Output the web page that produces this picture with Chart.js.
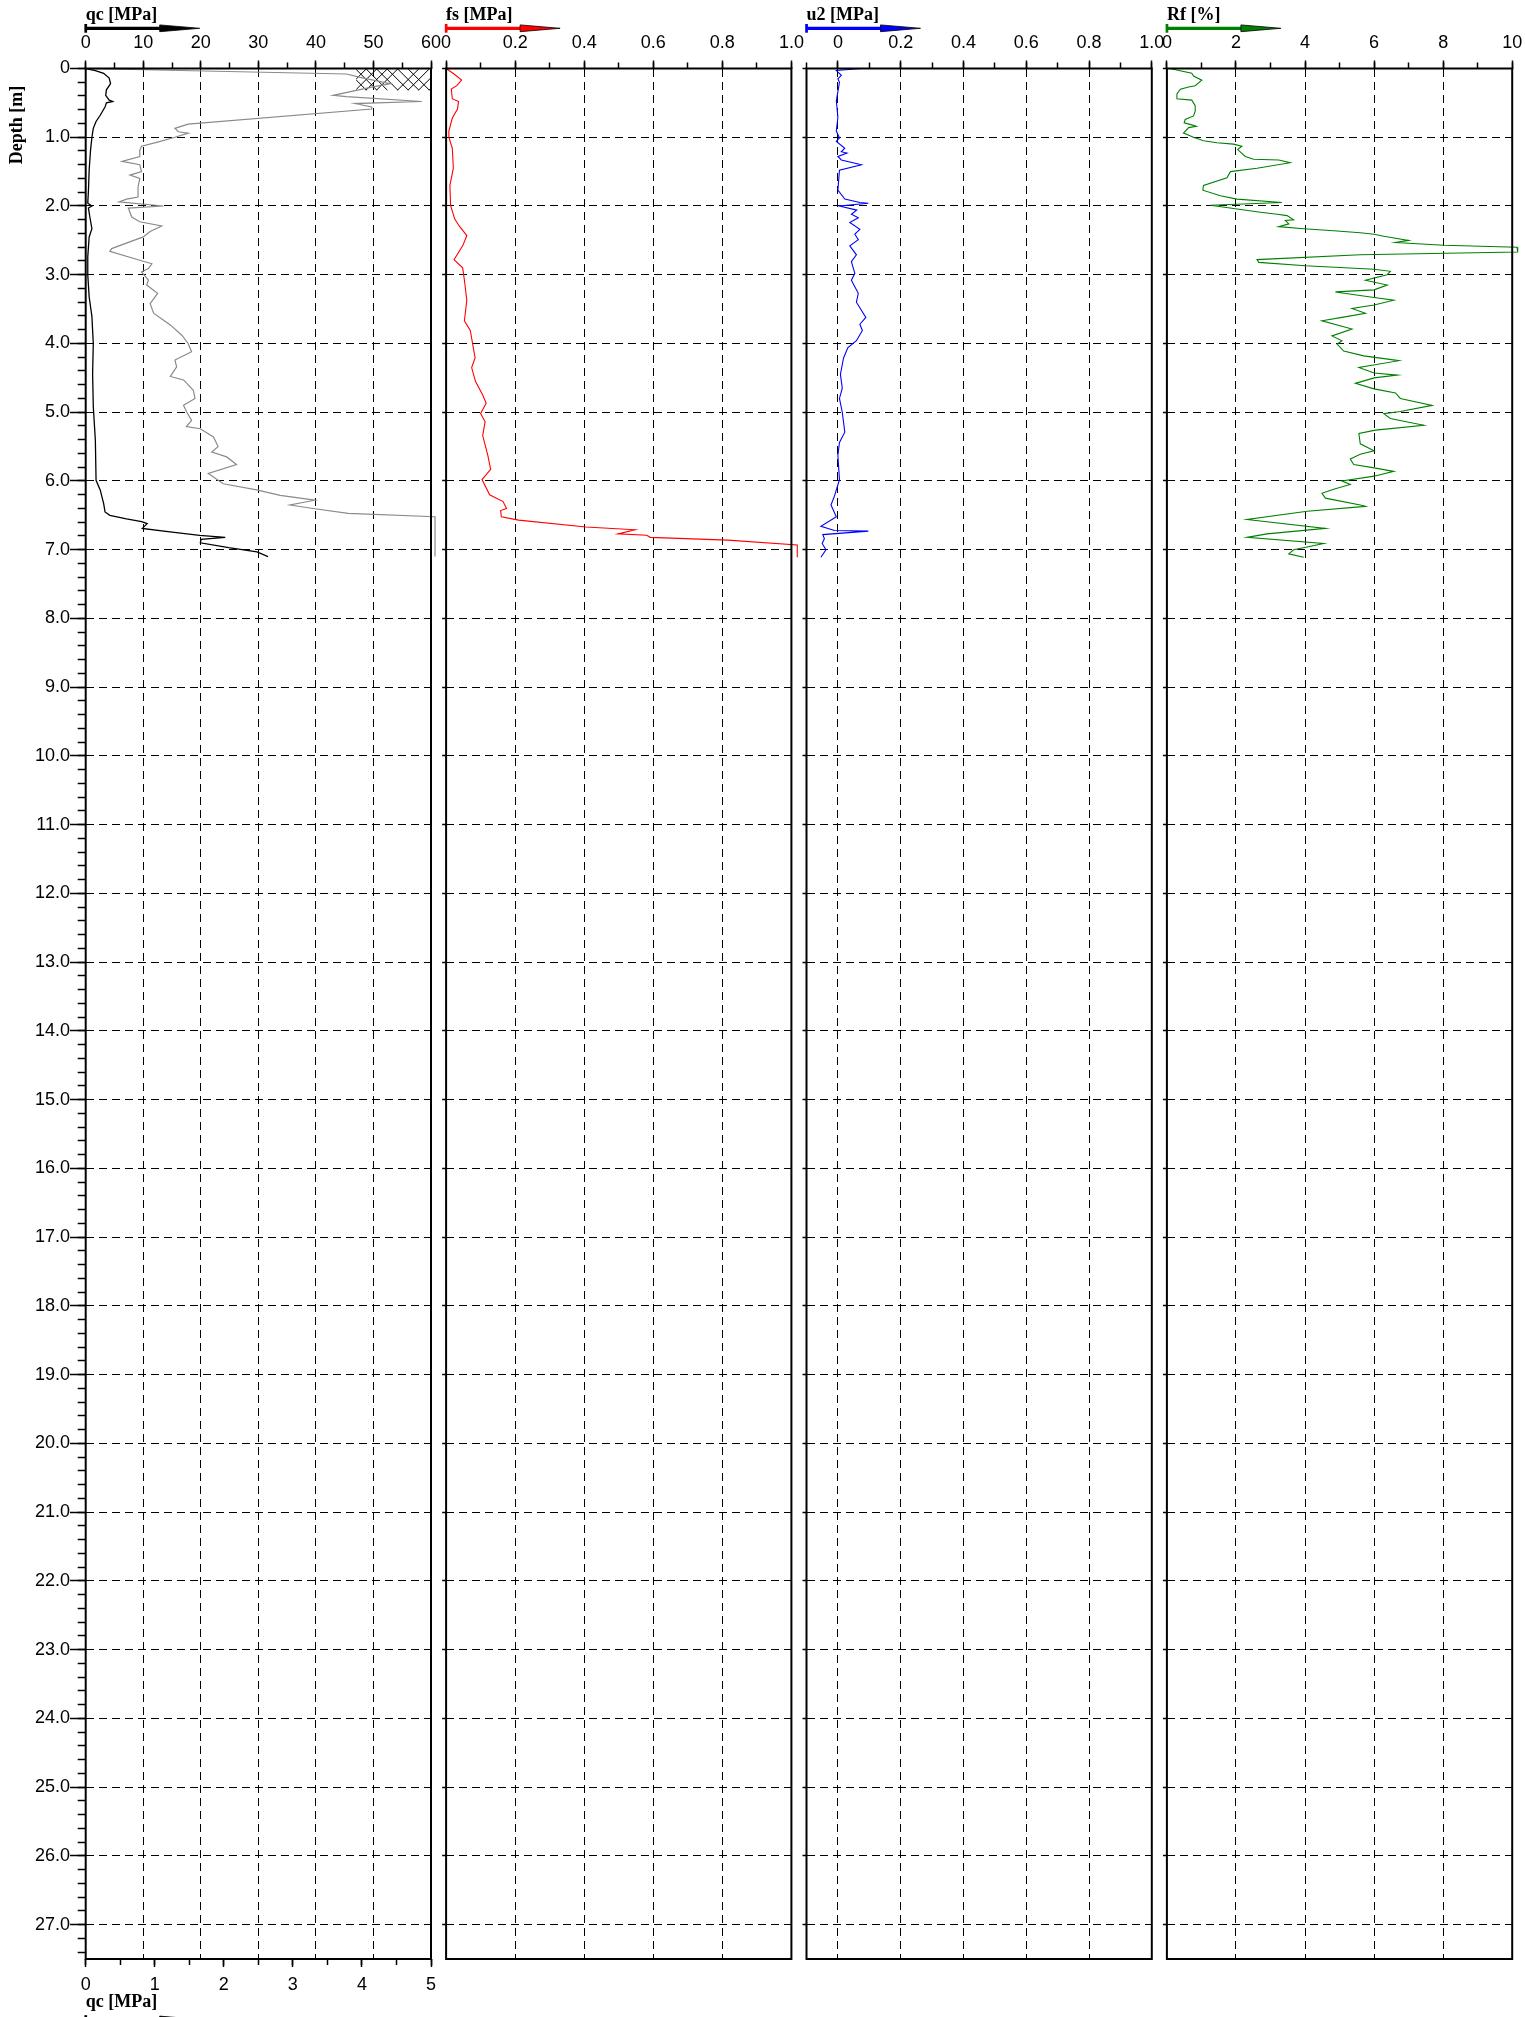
<!DOCTYPE html>
<html lang="en">
<head>
    <meta charset="UTF-8">
    <title>CPT log</title>
    <style>
        html, body {
            margin: 0;
            padding: 0;
            background: #ffffff;
            overflow: hidden;
        }
        body {
            position: relative;
            width: 1525px;
            height: 2017px;
        }
        canvas {
            position: absolute;
            top: 0;
        }
    </style>
    <script src="https://cdn.jsdelivr.net/npm/chart.js"></script>
</head>
<body>
    <canvas id="qcChart"></canvas>
    <canvas id="fsChart"></canvas>
    <canvas id="u2Chart"></canvas>
    <canvas id="rfChart"></canvas>

    <script>
        // depth axis [m] and tick labels
        const depthMax = 27.5;
        const depthTicks = [0, 1, 2, 3, 4, 5, 6, 7, 8, 9, 10, 11, 12, 13, 14, 15, 16, 17, 18, 19, 20, 21, 22, 23, 24, 25, 26, 27];
        const qcTopTicks = [0, 10, 20, 30, 40, 50, 60];
        const qcBottomTicks = [0, 1, 2, 3, 4, 5];
        const fsTicks = [0, 0.2, 0.4, 0.6, 0.8, 1.0];
        const u2Ticks = [0, 0.2, 0.4, 0.6, 0.8, 1.0];
        const rfTicks = [0, 2, 4, 6, 8, 10];

        // qc [MPa] on the 0-60 scale (grey)
        const qcDepth = [
            0, 0.08, 0.13, 0.22, 0.27, 0.39, 0.41, 0.48, 0.51, 0.56,
            0.59, 0.81, 0.87, 0.92, 0.94, 1.00, 1.07, 1.13, 1.19, 1.28,
            1.35, 1.40, 1.50, 1.55, 1.60, 1.72, 1.87, 1.90, 1.94, 2.00,
            2.03, 2.16, 2.23, 2.29, 2.37, 2.45, 2.62, 2.66, 2.79, 2.84,
            2.91, 2.96, 3.08, 3.15, 3.27, 3.42, 3.56, 3.73, 3.88, 4.00,
            4.12, 4.24, 4.34, 4.48, 4.53, 4.68, 4.80, 4.90, 4.99, 5.12,
            5.21, 5.24, 5.36, 5.50, 5.58, 5.65, 5.76, 5.89, 6.04, 6.13,
            6.21, 6.28, 6.35, 6.40, 6.47, 6.52, 7.10
        ];
        const qcValues = [
            0, 45.3, 47.7, 52.9, 49.7, 43.0, 45.3, 58.4, 46.8, 49.7,
            49.7, 17.8, 15.5, 16.1, 17.8, 15.5, 12.5, 9.7, 9.4, 9.4,
            6.3, 9.4, 9.7, 7.7, 9.4, 9.1, 9.1, 7.1, 5.8, 13.5,
            7.4, 8.0, 9.4, 13.2, 11.2, 10.0, 4.5, 4.2, 9.4, 11.5,
            10.9, 9.7, 10.9, 10.6, 12.5, 11.2, 11.8, 14.7, 16.7, 17.8,
            18.4, 15.5, 15.8, 14.7, 17.0, 18.7, 19.0, 17.0, 17.5, 18.4,
            17.5, 19.9, 22.2, 23.0, 21.9, 24.5, 26.2, 21.3, 23.9, 29.7,
            33.8, 39.8, 35.5, 39.5, 45.6, 60.7, 60.7
        ];

        // qc [MPa] on the 0-5 scale (black)
        const qcFineDepth = [
            0, 0.03, 0.07, 0.14, 0.22, 0.31, 0.39, 0.46, 0.48, 0.50,
            0.56, 0.68, 0.77, 0.87, 1.00, 1.19, 1.48, 1.77, 1.96, 2.00,
            2.03, 2.16, 2.33, 2.45, 2.74, 3.00, 3.32, 3.61, 4.00, 4.44,
            4.92, 5.41, 5.99, 6.13, 6.33, 6.45, 6.50, 6.55, 6.59, 6.62,
            6.69, 6.74, 6.79, 6.82, 6.85, 6.90, 6.97, 7.03, 7.10
        ];
        const qcFineValues = [
            0, 0.14, 0.26, 0.34, 0.36, 0.30, 0.29, 0.34, 0.39, 0.30,
            0.28, 0.21, 0.15, 0.11, 0.09, 0.07, 0.05, 0.04, 0.03, 0.09,
            0.04, 0.06, 0.09, 0.05, 0.03, 0.03, 0.05, 0.09, 0.11, 0.10,
            0.11, 0.14, 0.15, 0.21, 0.26, 0.28, 0.35, 0.59, 0.81, 0.89,
            0.82, 1.22, 1.65, 2.02, 1.67, 1.66, 2.07, 2.48, 2.64
        ];

        // fs [MPa]
        const fsDepth = [
            0, 0.08, 0.17, 0.25, 0.30, 0.44, 0.48, 0.59, 0.72, 0.91,
            1.00, 1.16, 1.45, 1.70, 1.99, 2.19, 2.29, 2.43, 2.58, 2.78,
            2.90, 3.08, 3.37, 3.67, 3.81, 4.21, 4.35, 4.55, 4.75, 4.87,
            5.02, 5.14, 5.34, 5.63, 5.83, 5.98, 6.20, 6.30, 6.40, 6.43,
            6.52, 6.57, 6.67, 6.71, 6.77, 6.79, 6.82, 6.86, 6.93, 7.11
        ];
        const fsValues = [
            0, 0.023, 0.045, 0.031, 0.015, 0.018, 0.036, 0.033, 0.018, 0.008,
            0.008, 0.018, 0.021, 0.011, 0.013, 0.025, 0.038, 0.060, 0.048, 0.023,
            0.048, 0.053, 0.060, 0.053, 0.070, 0.084, 0.074, 0.085, 0.106, 0.116,
            0.100, 0.113, 0.106, 0.121, 0.129, 0.104, 0.126, 0.165, 0.175, 0.158,
            0.160, 0.210, 0.405, 0.547, 0.498, 0.581, 0.591, 0.816, 1.017, 1.017
        ];

        // u2 [MPa]
        const u2Depth = [
            0, 0.03, 0.10, 0.15, 0.20, 0.47, 0.71, 0.91, 1.01, 1.06,
            1.16, 1.21, 1.23, 1.28, 1.33, 1.40, 1.48, 1.77, 1.90, 1.95,
            1.96, 2.00, 2.06, 2.12, 2.17, 2.24, 2.34, 2.41, 2.49, 2.58,
            2.71, 2.81, 2.98, 3.08, 3.27, 3.40, 3.62, 3.72, 3.81, 3.96,
            4.06, 4.21, 4.45, 4.65, 4.80, 5.00, 5.29, 5.44, 5.63, 5.98,
            6.22, 6.35, 6.52, 6.66, 6.72, 6.73, 6.78, 6.84, 6.91, 7.00,
            7.11
        ];
        const u2Values = [
            0.075, -0.005, 0.011, 0.000, 0.005, -0.005, 0.000, -0.005, 0.005, -0.005,
            0.022, 0.011, 0.029, 0.000, 0.011, 0.075, 0.005, 0.000, 0.022, 0.070,
            0.097, 0.005, 0.060, 0.043, 0.065, 0.038, 0.070, 0.054, 0.065, 0.038,
            0.059, 0.043, 0.054, 0.043, 0.065, 0.059, 0.089, 0.070, 0.078, 0.059,
            0.032, 0.018, 0.008, 0.014, 0.005, 0.014, 0.022, 0.005, 0.000, 0.005,
            -0.011, -0.022, -0.005, -0.054, -0.011, 0.097, -0.048, -0.043, -0.050, -0.038,
            -0.054
        ];

        // Rf [%]
        const rfDepth = [
            0.00, 0.07, 0.11, 0.17, 0.25, 0.27, 0.30, 0.37, 0.44, 0.46,
            0.54, 0.62, 0.69, 0.74, 0.79, 0.82, 0.84, 0.86, 0.94, 1.00,
            1.05, 1.08, 1.10, 1.13, 1.18, 1.28, 1.32, 1.33, 1.37, 1.45,
            1.50, 1.59, 1.70, 1.77, 1.85, 1.90, 1.95, 1.99, 2.04, 2.09,
            2.12, 2.14, 2.20, 2.21, 2.26, 2.30, 2.33, 2.36, 2.39, 2.41,
            2.44, 2.50, 2.53, 2.57, 2.60, 2.67, 2.71, 2.78, 2.82, 2.87,
            2.92, 2.95, 3.00, 3.08, 3.15, 3.22, 3.25, 3.33, 3.37, 3.44,
            3.49, 3.56, 3.62, 3.67, 3.79, 3.89, 3.96, 4.01, 4.11, 4.18,
            4.25, 4.35, 4.43, 4.46, 4.50, 4.58, 4.66, 4.72, 4.80, 4.90,
            4.99, 5.02, 5.09, 5.19, 5.26, 5.31, 5.46, 5.56, 5.61, 5.68,
            5.76, 5.81, 5.86, 5.93, 6.00, 6.05, 6.12, 6.18, 6.25, 6.35,
            6.37, 6.44, 6.56, 6.69, 6.77, 6.82, 6.91, 6.96, 7.00, 7.06,
            7.11
        ];
        const rfValues = [
            0.08, 0.72, 0.77, 1.01, 0.82, 0.63, 0.39, 0.29, 0.29, 0.72,
            0.82, 0.82, 0.77, 0.53, 0.50, 0.72, 0.85, 0.63, 0.48, 0.77,
            1.06, 1.45, 1.93, 2.17, 2.05, 2.27, 2.51, 3.24, 3.57, 2.61,
            1.84, 1.74, 1.06, 1.04, 1.55, 2.03, 3.33, 1.26, 1.98, 2.71,
            3.19, 3.48, 3.67, 3.43, 3.53, 3.24, 3.96, 4.83, 5.60, 6.00,
            6.28, 7.00, 6.62, 8.02, 10.14, 10.16, 5.60, 2.61, 2.66, 4.01,
            6.00, 6.47, 6.38, 5.75, 6.38, 6.00, 4.88, 6.00, 6.57, 6.00,
            5.36, 5.75, 5.07, 4.49, 5.36, 4.78, 5.07, 4.93, 5.12, 5.70,
            6.72, 5.56, 6.00, 6.67, 6.00, 5.46, 6.00, 6.62, 6.76, 7.68,
            6.76, 6.28, 6.47, 7.44, 6.04, 5.56, 5.60, 6.00, 5.60, 5.31,
            5.41, 6.00, 6.57, 6.00, 5.07, 5.31, 4.83, 4.49, 4.59, 5.60,
            5.75, 4.06, 2.32, 4.59, 2.90, 2.32, 4.54, 4.06, 3.67, 3.53,
            3.96
        ];

        // hatched zone at the top of the qc track
        const hatchQc = [47, 60];
        const hatchDepth = [0, 0.32];

        // page layout
        const PANEL_LEFT = [85.7, 446.1, 806.5, 1166.9];
        const PANEL_W = 345.3;
        const AXIS_TOP = 68.5;
        const AXIS_BOTTOM_H = 58;
        const PAGE_H = 2017;

        Chart.defaults.font.family = '"Liberation Sans", Arial, sans-serif';
        Chart.defaults.font.size = 18;
        Chart.defaults.color = '#000';

        const toPoints = (depth, vals) => depth.map((d, i) => ({ x: vals[i], y: d }));
        const decimal = v => v === 0 ? '0' : v.toFixed(1);

        function drawArrow(ctx, x, y, color) {
            ctx.save();
            ctx.strokeStyle = color;
            ctx.fillStyle = color;
            ctx.lineWidth = 3.3;
            ctx.beginPath();
            ctx.moveTo(x, y);
            ctx.lineTo(x + 76, y);
            ctx.stroke();
            ctx.fillRect(x - 1.3, y - 4.3, 2.7, 8.7);
            ctx.beginPath();
            ctx.moveTo(x + 74, y - 3.4);
            ctx.lineTo(x + 114, y);
            ctx.lineTo(x + 74, y + 3.4);
            ctx.closePath();
            ctx.fill();
            ctx.lineWidth = 0.8;
            ctx.strokeStyle = '#000';
            ctx.stroke();
            ctx.restore();
        }

        // frame, titles, arrows and hatching
        const trackDecor = {
            id: 'trackDecor',
            beforeDatasetsDraw(chart, args, opts) {
                if (!opts.hatch) return;
                const { ctx } = chart;
                const xs = chart.scales.x, ys = chart.scales.y;
                const x0 = xs.getPixelForValue(hatchQc[0]), x1 = xs.getPixelForValue(hatchQc[1]);
                const y0 = ys.getPixelForValue(hatchDepth[0]), y1 = ys.getPixelForValue(hatchDepth[1]);
                const h = y1 - y0, w = x1 - x0, step = 10.5;
                ctx.save();
                ctx.beginPath();
                ctx.rect(x0, y0, w, h);
                ctx.clip();
                ctx.strokeStyle = '#000';
                ctx.lineWidth = 1;
                ctx.beginPath();
                // "\" strokes over the left three quarters
                for (let s = x0 - h; s < x0 + w * 0.78; s += step) {
                    ctx.moveTo(s, y0);
                    ctx.lineTo(s + h, y1);
                }
                // "/" strokes on the left and right parts
                for (let s = x0; s < x1 + h; s += step) {
                    const mid = s - h / 2;
                    if (mid > x0 + w * 0.42 && mid < x0 + w * 0.64) continue;
                    ctx.moveTo(s, y0);
                    ctx.lineTo(s - h, y1);
                }
                ctx.stroke();
                ctx.restore();
            },
            afterDraw(chart, args, opts) {
                const { ctx, chartArea: a } = chart;
                ctx.save();
                ctx.lineWidth = 2;
                ctx.strokeStyle = '#000';
                ctx.strokeRect(a.left, a.top, a.right - a.left, a.bottom - a.top);

                ctx.font = 'bold 18px "Liberation Serif", "Times New Roman", serif';
                ctx.fillStyle = '#000';
                ctx.textAlign = 'left';
                ctx.textBaseline = 'alphabetic';
                ctx.fillText(opts.title, a.left, 19.5);
                drawArrow(ctx, a.left, 28.3, opts.color);

                if (opts.bottomTitle) {
                    ctx.fillText(opts.bottomTitle, a.left, 2006.5);
                    drawArrow(ctx, a.left, 2019.5, '#000');
                }
                if (opts.depthTitle) {
                    ctx.translate(17.5, 125);
                    ctx.rotate(-Math.PI / 2);
                    ctx.textAlign = 'center';
                    ctx.textBaseline = 'middle';
                    ctx.fillText(opts.depthTitle, 0, 0);
                }
                ctx.restore();
            }
        };

        function tickAxis(position, min, max, step, size, weight) {
            // short ticks only, no labels, zero thickness so they sit on the frame
            return {
                type: 'linear', position: position, min: min, max: max, weight: weight,
                reverse: position === 'left',
                afterFit: s => { if (position === 'left') s.width = 0; else s.height = 0; },
                ticks: { stepSize: step, display: false, includeBounds: false },
                grid: { drawOnChartArea: false, tickLength: size, tickColor: '#000', tickWidth: 1.5 },
                border: { display: false }
            };
        }

        function makeTrack(i, cfg) {
            const canvas = document.getElementById(cfg.id);
            const first = i === 0;
            const left = PANEL_LEFT[i];
            const canvasLeft = first ? 0 : Math.floor(left) - 40;
            const offLeft = left - canvasLeft;
            const canvasW = Math.ceil(left + PANEL_W + 20) - canvasLeft;
            canvas.width = canvasW;
            canvas.height = PAGE_H;
            canvas.style.left = canvasLeft + 'px';

            const scales = {
                y: {
                    type: 'linear', position: 'left', reverse: true, min: 0, max: depthMax, weight: 1,
                    afterBuildTicks: s => { s.ticks = depthTicks.map(v => ({ value: v })); },
                    afterFit: s => { s.width = offLeft; },
                    grid: { color: '#000', lineWidth: 1, tickLength: first ? 15.7 : 4, tickColor: '#000', tickWidth: 1.5 },
                    border: { display: false, dash: [8, 5] },
                    ticks: { display: first, padding: 0, autoSkip: false, callback: v => v === 0 ? '0' : v.toFixed(1) }
                },
                x: {
                    type: 'linear', position: 'top', min: cfg.min, max: cfg.max, weight: 1,
                    afterBuildTicks: s => { s.ticks = cfg.ticks.map(v => ({ value: v })); },
                    afterFit: s => { s.height = AXIS_TOP; },
                    grid: { color: '#000', lineWidth: 1, tickLength: 8, tickColor: '#000', tickWidth: 1.5 },
                    border: { display: false, dash: [8, 5] },
                    ticks: { padding: 6.5, autoSkip: false, maxRotation: 0, callback: cfg.format }
                },
                xMinor: tickAxis('top', cfg.min, cfg.max, cfg.minor, 6, 0)
            };
            if (first) {
                scales.yMinor = tickAxis('left', 0, depthMax, 0.2, 8, 0);
                scales.x2 = {
                    type: 'linear', position: 'bottom', min: 0, max: 5, weight: 1,
                    afterBuildTicks: s => { s.ticks = qcBottomTicks.map(v => ({ value: v })); },
                    afterFit: s => { s.height = AXIS_BOTTOM_H; },
                    grid: { drawOnChartArea: false, tickLength: 8, tickColor: '#000', tickWidth: 1.5 },
                    border: { display: false },
                    ticks: { padding: 7.5, autoSkip: false, maxRotation: 0, callback: v => String(v) }
                };
                scales.x2Minor = tickAxis('bottom', 0, 5, 0.5, 6, 0);
            }

            return new Chart(canvas, {
                type: 'scatter',
                data: { datasets: cfg.datasets },
                options: {
                    responsive: false,
                    animation: false,
                    events: [],
                    layout: {
                        padding: {
                            left: 0, top: 0,
                            right: canvasW - offLeft - PANEL_W,
                            bottom: first ? 0 : AXIS_BOTTOM_H
                        }
                    },
                    scales: scales,
                    plugins: {
                        legend: { display: false },
                        tooltip: { enabled: false },
                        trackDecor: {
                            title: cfg.title,
                            color: cfg.color,
                            hatch: first,
                            bottomTitle: first ? 'qc [MPa]' : null,
                            depthTitle: first ? 'Depth [m]' : null
                        }
                    }
                },
                plugins: [trackDecor]
            });
        }

        const lineStyle = (color, width) => ({
            showLine: true, pointRadius: 0, borderColor: color, borderWidth: width,
            fill: false, clip: { left: 2, top: 2, right: 10, bottom: 2 }, xAxisID: 'x', yAxisID: 'y'
        });

        makeTrack(0, {
            id: 'qcChart', title: 'qc [MPa]', color: '#000', min: 0, max: 60, minor: 5,
            ticks: qcTopTicks, format: v => String(v),
            datasets: [
                Object.assign({ label: 'qc', data: toPoints(qcDepth, qcValues) }, lineStyle('#8a8a8a', 1.2)),
                Object.assign({ label: 'qc fine', data: toPoints(qcFineDepth, qcFineValues) }, lineStyle('#000', 1.3), { xAxisID: 'x2' })
            ]
        });
        makeTrack(1, {
            id: 'fsChart', title: 'fs [MPa]', color: '#ff0000', min: 0, max: 1, minor: 0.1,
            ticks: fsTicks, format: decimal,
            datasets: [Object.assign({ label: 'fs', data: toPoints(fsDepth, fsValues) }, lineStyle('#ff0000', 1.1))]
        });
        makeTrack(2, {
            id: 'u2Chart', title: 'u2 [MPa]', color: '#0000ff', min: -0.1, max: 1, minor: 0.1,
            ticks: u2Ticks, format: decimal,
            datasets: [Object.assign({ label: 'u2', data: toPoints(u2Depth, u2Values) }, lineStyle('#0000ff', 1.1))]
        });
        makeTrack(3, {
            id: 'rfChart', title: 'Rf [%]', color: '#008000', min: 0, max: 10, minor: 1,
            ticks: rfTicks, format: v => String(v),
            datasets: [Object.assign({ label: 'Rf', data: toPoints(rfDepth, rfValues) }, lineStyle('#008000', 1.1))]
        });
    </script>
</body>
</html>
